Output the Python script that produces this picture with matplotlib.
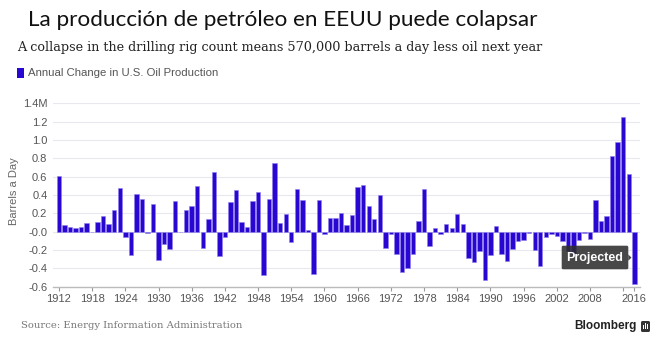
import matplotlib.pyplot as plt
from matplotlib.patches import FancyBboxPatch, Polygon

# Annual change in U.S. oil production, million barrels a day
years = list(range(1912, 2017))
change = [
    0.61, 0.07, 0.05, 0.04, 0.05, 0.095, 0.0, 0.11, 0.175, 0.084,   # 1912-1921
    0.236, 0.48, -0.058, -0.255, 0.41, 0.353, -0.01, 0.298, -0.305, -0.13,  # 1922-1931
    -0.19, 0.338, -0.004, 0.236, 0.276, 0.50, -0.175, 0.142, 0.647, -0.26,  # 1932-1941
    -0.058, 0.32, 0.458, 0.105, 0.055, 0.335, 0.433, -0.476, 0.36, 0.749,   # 1942-1951
    0.095, 0.196, -0.116, 0.462, 0.342, 0.015, -0.458, 0.342, -0.022, 0.145,  # 1952-1961
    0.149, 0.207, 0.073, 0.185, 0.487, 0.513, 0.284, 0.138, 0.396, -0.175,  # 1962-1971
    -0.03, -0.24, -0.436, -0.40, -0.247, 0.113, 0.462, -0.156, 0.04, -0.025,  # 1972-1981
    0.08, 0.036, 0.193, 0.087, -0.29, -0.335, -0.21, -0.525, -0.255, 0.058,  # 1982-1991
    -0.247, -0.324, -0.19, -0.10, -0.095, -0.015, -0.196, -0.37, -0.058, -0.025,  # 1992-2001
    -0.05, -0.10, -0.21, -0.24, -0.095, -0.01, -0.076, 0.35, 0.12, 0.17,  # 2002-2011
    0.83, 0.975, 1.247, 0.625, -0.575,  # 2012-2016
]
tick_years = list(range(1912, 2015, 6)) + [2016]
tick_labels = [str(y) if y != 2014 else '' for y in tick_years]
y_ticks = [1.4, 1.2, 1.0, 0.8, 0.6, 0.4, 0.2, 0.0, -0.2, -0.4, -0.6]
y_labels = ['1.4M', '1.2', '1.0', '0.8', '0.6', '0.4', '0.2', '-0.0', '-0.2', '-0.4', '-0.6']

bar_color = '#2a06d2'
gray = '#555555'

fig = plt.figure(figsize=(6.65, 3.51), dpi=100)
ax = fig.add_axes([0.0797, 0.1832, 0.8827, 0.5225])

ax.bar(years, change, width=0.8, color=bar_color, edgecolor='#8f80ea', linewidth=0.4, zorder=3)

ax.set_xlim(1910.93, 2017.03)
ax.set_ylim(-0.6, 1.4)
ax.set_yticks(y_ticks)
ax.set_yticklabels(y_labels, fontsize=8, color=gray, family='Liberation Sans')
ax.set_xticks(tick_years)
ax.set_xticklabels(tick_labels, fontsize=8, color=gray, family='Liberation Sans')
ax.tick_params(axis='y', length=0, pad=4)
ax.tick_params(axis='x', length=3, color='#999999', pad=2)
ax.grid(axis='y', color='#e8e8ee', linewidth=0.8, zorder=0)
for s in ['top', 'right', 'left']:
    ax.spines[s].set_visible(False)
ax.spines['bottom'].set_color('#bbbbbb')
ax.spines['bottom'].set_linewidth(1.0)
ax.set_ylabel('Barrels a Day', fontsize=8, color='#666666', family='Liberation Sans', labelpad=2)
ax.yaxis.set_label_coords(-0.058, 0.52)

# "Projected" callout
box = FancyBboxPatch((561.7, 351 - 269.3), 66.6, 23.6, boxstyle='round,pad=0,rounding_size=1.5',
                     transform=None, facecolor='#2f2f2f', edgecolor='none', alpha=0.88, zorder=5)
fig.patches.append(box)
arrow = Polygon([[628.3, 351 - 254.5], [631.5, 351 - 257.6], [628.3, 351 - 260.7]], closed=True,
                transform=None, facecolor='#2f2f2f', edgecolor='none', alpha=0.88, zorder=5)
fig.patches.append(arrow)
fig.text(595, 351 - 257.8, 'Projected', transform=None, ha='center', va='center',
         fontsize=9, color='white', family='Liberation Sans', fontweight='bold', zorder=6)

# titles
fig.text(28 / 665, 1 - 20 / 351, 'La producción de petróleo en EEUU puede colapsar',
         fontsize=16.2, family='Lato', color='#111111', va='center')
fig.text(17 / 665, 1 - 47 / 351,
         'A collapse in the drilling rig count means 570,000 barrels a day less oil next year',
         fontsize=9.15, family='DejaVu Serif', color='#222222', va='center')
fig.patches.append(plt.Rectangle((17, 351 - 78), 7, 10, transform=None,
                                 facecolor=bar_color, edgecolor='none'))
fig.text(28 / 665, 1 - 73 / 351, 'Annual Change in U.S. Oil Production',
         fontsize=8.2, family='Liberation Sans', color=gray, va='center')

# footer
fig.text(21 / 665, 1 - 326 / 351, 'Source: Energy Information Administration',
         fontsize=7.2, family='DejaVu Serif', color='#777777', va='center')
fig.text(637 / 665, 1 - 326 / 351, 'Bloomberg', fontsize=8.5, family='Liberation Sans',
         fontweight='bold', color='#222222', va='center', ha='right')
fig.patches.append(FancyBboxPatch((641, 351 - 332), 9, 11, boxstyle='round,pad=0,rounding_size=1.5',
                                  transform=None, facecolor='#333333', edgecolor='none'))
for i, h in enumerate([4, 6, 5]):
    fig.patches.append(plt.Rectangle((642.8 + i * 2.2, 351 - 329), 1.2, h, transform=None,
                                     facecolor='white', edgecolor='none'))

fig.savefig('out.png', dpi=100)
